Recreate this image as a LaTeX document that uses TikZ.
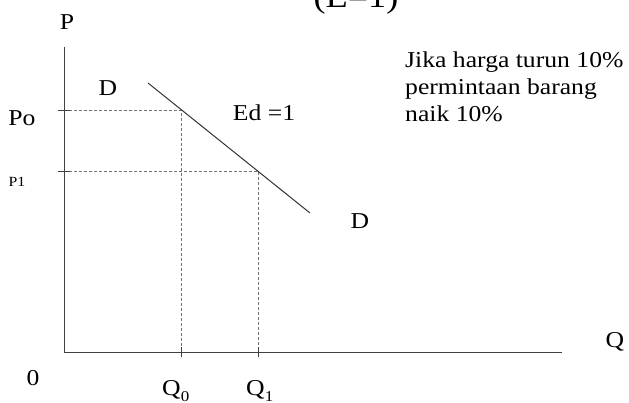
\documentclass[tikz,border=0pt]{standalone}
\usepackage{fontspec}
\setmainfont{Liberation Serif}
\begin{document}
\begin{tikzpicture}[x=1pt,y=-1pt,
  lbl/.style={inner sep=0pt, font=\fontsize{22.7}{27}\selectfont, xscale=1.13, text=black},
  small/.style={inner sep=0pt, font=\fontsize{14}{16}\selectfont, xscale=1.13, text=black},
  axis/.style={draw=black!75, line width=1pt},
  guide/.style={draw=black!55, line width=0.8pt, dash pattern=on 3pt off 2pt},
  tick/.style={draw=black!75, line width=0.8pt},
  demand/.style={draw=black!80, line width=1pt}]
\useasboundingbox (0,0) rectangle (629,403);
\clip (0,0) rectangle (629,403);
% coordinates
\coordinate (O) at (64,352);
\coordinate (Ytop) at (64,47);
\coordinate (Xend) at (562,352);
\coordinate (Dst) at (148,83);
\coordinate (Den) at (310,213);
\coordinate (A) at (181,110);
\coordinate (B) at (258,171);
\coordinate (Ay) at (64,110);
\coordinate (By) at (64,171);
\coordinate (Ax) at (181,352);
\coordinate (Bx) at (258,352);
% title (cut off at top)
\node[lbl, font=\fontsize{32}{36}\selectfont, anchor=base] (title) at (356,8) {(E=1)};
% axes
\draw[axis] (Ytop) -- (O) -- (Xend);
% guides
\draw[guide] (Ay) -- (A) -- (Ax);
\draw[guide] (By) -- (B) -- (Bx);
% ticks
\draw[tick] ([xshift=-6pt]Ay) -- ([xshift=6pt]Ay);
\draw[tick] ([xshift=-6pt]By) -- ([xshift=6pt]By);
\draw[tick] ([yshift=5pt]Ax) -- ([yshift=-5pt]Ax);
\draw[tick] ([yshift=5pt]Bx) -- ([yshift=-5pt]Bx);
% demand line
\draw[demand] (Dst) -- (Den);
% labels
\node[lbl] (P) at (67,22) {P};
\node[lbl] (Q) at (615,342) {Q};
\node[lbl] (zero) at (33,378) {0};
\node[lbl] (Po) at (22,118) {Po};
\node[small] (P1) at (17,182) {P1};
\node[lbl] (D1) at (108,88) {D};
\node[lbl] (D2) at (360,221) {D};
\node[lbl] (Ed) at (264,113) {Ed =1};
\node[lbl, anchor=base west] (Q0) at (162,395) {Q\raisebox{-6pt}{\fontsize{15}{15}\selectfont 0}};
\node[lbl, anchor=base west] (Q1) at (246,395) {Q\raisebox{-6pt}{\fontsize{15}{15}\selectfont 1}};
\node[lbl, anchor=base west, align=left] (note) at (405,122) {Jika harga turun 10\%\\permintaan barang\\naik 10\%};
\end{tikzpicture}
\end{document}
